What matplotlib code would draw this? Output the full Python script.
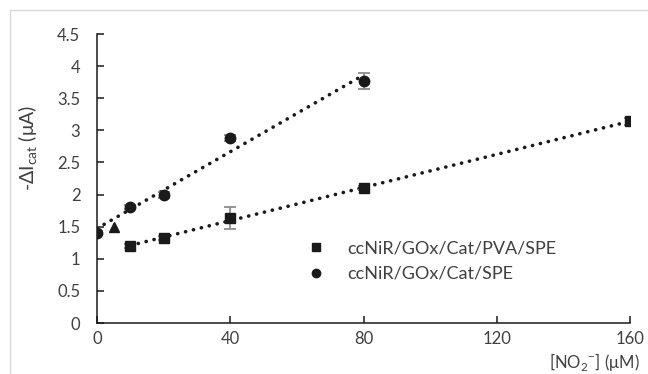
import numpy as np
import matplotlib
matplotlib.use("Agg")
import matplotlib.pyplot as plt
from matplotlib.patches import Rectangle
from matplotlib.lines import Line2D

plt.rcParams['font.family'] = ['Lato', 'DejaVu Sans']

# Data
x_pva = [10, 20, 40, 80, 160]
y_pva = [1.20, 1.32, 1.63, 2.10, 3.14]
e_pva = [0.03, 0.03, 0.17, 0.03, 0.05]

x_spe = [0, 10, 20, 40, 80]
y_spe = [1.40, 1.80, 1.99, 2.88, 3.77]
e_spe = [0.03, 0.03, 0.05, 0.04, 0.13]

x_tri = [5]
y_tri = [1.49]

label_pva = "ccNiR/GOx/Cat/PVA/SPE"
label_spe = "ccNiR/GOx/Cat/SPE"
xticks = [0, 40, 80, 120, 160]
yticks = [0, 0.5, 1, 1.5, 2, 2.5, 3, 3.5, 4, 4.5]

W, H = 648, 374
fig = plt.figure(figsize=(W / 100, H / 100), dpi=100)
fig.patches.append(Rectangle((10 / W, -0.1), 1.2, (H - 10) / H + 0.1,
                             transform=fig.transFigure, fill=False,
                             edgecolor='#d9d9d9', linewidth=1))
ax = fig.add_axes([97 / W, (H - 323) / H, (630 - 97) / W, (323 - 34) / H])

dark = '#1a1a1a'
txt = '#404040'
dot = dict(color=dark, linewidth=2.6, linestyle=(0, (0.05, 2.2)),
           dash_capstyle='round', zorder=2)
# trend lines (linear fits of each series)
p1 = np.polyfit(x_pva, y_pva, 1)
xx1 = np.array([min(x_pva), max(x_pva)])
ax.plot(xx1, np.polyval(p1, xx1), **dot)
p2 = np.polyfit(x_spe, y_spe, 1)
xx2 = np.array([min(x_spe), max(x_spe)])
ax.plot(xx2, np.polyval(p2, xx2), **dot)

ax.errorbar(x_pva, y_pva, yerr=e_pva, fmt='s', color=dark, ms=7.5,
            ecolor='#8c8c8c', elinewidth=1.3, capsize=4, capthick=1.3,
            zorder=3)
ax.errorbar(x_spe, y_spe, yerr=e_spe, fmt='o', color=dark, ms=7.5,
            ecolor='#8c8c8c', elinewidth=1.3, capsize=4, capthick=1.3,
            zorder=3)
ax.plot(x_tri, y_tri, '^', color=dark, ms=7, zorder=3)

ax.set_xlim(0, 160)
ax.set_ylim(0, 4.5)
ax.set_xticks(xticks)
ax.set_xticklabels([str(v) for v in xticks])
ax.set_yticks(yticks)
ax.set_yticklabels([('%g' % v) for v in yticks])
for s in ['top', 'right']:
    ax.spines[s].set_visible(False)
for s in ['left', 'bottom']:
    ax.spines[s].set_linewidth(1.1)
    ax.spines[s].set_color(dark)
ax.tick_params(axis='both', direction='in', length=5, width=1.1,
               labelsize=12, colors=dark, labelcolor=txt)
ax.tick_params(axis='x', pad=6)
ax.tick_params(axis='y', pad=12)

ax.set_ylabel(r'-ΔI$_{\mathregular{cat}}$ (μA)', fontsize=14, color=txt)
ax.yaxis.set_label_coords((40 - 97) / (630 - 97), (323 - 148) / (323 - 34))
fig.text(640 / W, 1 - 362 / H, r'[NO$_{\mathregular{2}}$$^{\mathregular{-}}$] (μM)',
         ha='right', va='center', fontsize=12, color=txt)

handles = [Line2D([], [], marker='s', color=dark, ls='none', ms=6),
           Line2D([], [], marker='o', color=dark, ls='none', ms=6)]
fig.legend(handles, [label_pva, label_spe], loc='upper left',
           bbox_to_anchor=(302 / W, 1 - 240 / H), frameon=False,
           fontsize=13, handlelength=1.6, handletextpad=0.9, labelspacing=0.55,
           labelcolor=txt, borderpad=0, borderaxespad=0)

fig.savefig('out.png', dpi=100)
